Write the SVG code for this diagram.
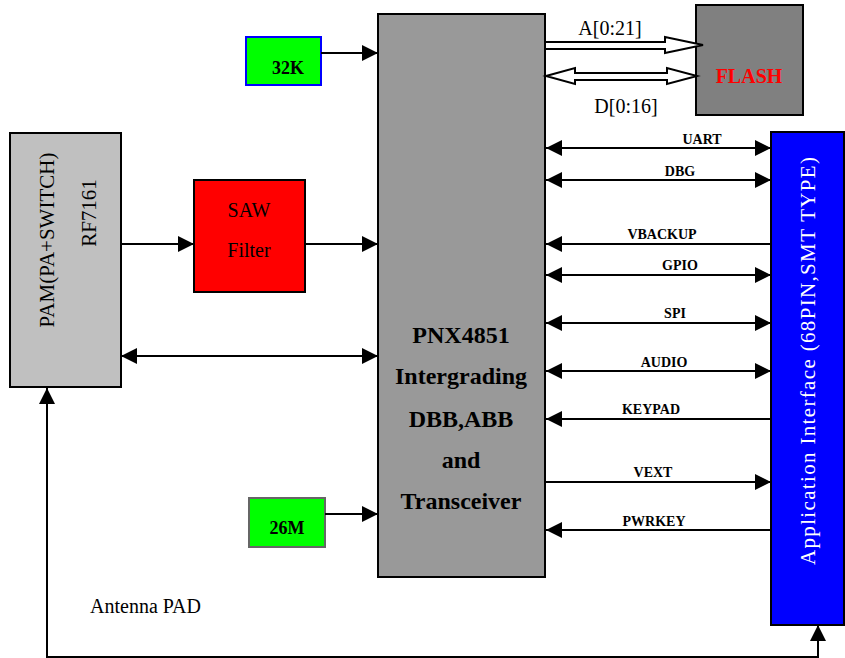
<svg xmlns="http://www.w3.org/2000/svg" width="845" height="658" viewBox="0 0 845 658">
<style>
text{font-family:"Liberation Serif","Times New Roman",serif;fill:#000}
.b{font-weight:bold}
.sig{font-size:14px;font-weight:bold;text-anchor:middle}
.ln{stroke:#000;stroke-width:2;fill:none}
.box{stroke:#000;stroke-width:2}
</style>
<defs>
<marker id="ah" markerUnits="userSpaceOnUse" markerWidth="16" markerHeight="16" refX="15" refY="7.5" orient="auto-start-reverse" viewBox="0 0 15 15">
<path d="M0,0 L15,7.5 L0,15 z" fill="#000"/>
</marker>
</defs>
<rect width="845" height="658" fill="#fff"/>

<g id="chip">
<rect x="378" y="14" width="167" height="563" fill="#999" class="box"/>
<text x="461" y="343" font-size="24" class="b" text-anchor="middle">PNX4851</text>
<text x="461" y="384" font-size="24" class="b" text-anchor="middle">Intergrading</text>
<text x="461" y="427" font-size="24" class="b" text-anchor="middle">DBB,ABB</text>
<text x="461" y="468" font-size="24" class="b" text-anchor="middle">and</text>
<text x="461" y="509" font-size="24" class="b" text-anchor="middle">Transceiver</text>
</g>

<g id="flash">
<rect x="696" y="5" width="107" height="110" fill="#808080" class="box"/>
<text x="749" y="83" font-size="20" class="b" text-anchor="middle" style="fill:#ff0000">FLASH</text>
</g>

<g id="app">
<rect x="771" y="132" width="73" height="493" fill="#0000ff" class="box"/>
<text transform="translate(815,565) rotate(-90)" x="0" y="0" font-size="21" textLength="408" lengthAdjust="spacing" style="fill:#fff">Application Interface (68PIN,SMT TYPE)</text>
</g>

<g id="pam">
<rect x="10" y="133" width="111" height="254" fill="#c0c0c0" class="box"/>
<text transform="translate(54,240) rotate(-90)" font-size="21" text-anchor="middle">PAM(PA+SWITCH)</text>
<text transform="translate(96,213) rotate(-90)" font-size="21" text-anchor="middle">RF7161</text>
</g>

<g id="saw">
<rect x="194" y="180" width="111" height="112" fill="#ff0000" class="box"/>
<text x="249" y="217" font-size="20" text-anchor="middle">SAW</text>
<text x="249" y="257" font-size="20" text-anchor="middle">Filter</text>
</g>

<g id="osc32k">
<rect x="246" y="37" width="75" height="48" fill="#00ff00" stroke="#0000ff" stroke-width="2"/>
<text x="288" y="74" font-size="18" class="b" text-anchor="middle">32K</text>
</g>

<g id="osc26m">
<rect x="249" y="498" width="76" height="49" fill="#00ff00" stroke="#666" stroke-width="2"/>
<text x="287" y="534" font-size="18" class="b" text-anchor="middle">26M</text>
</g>

<g id="antenna">
<text x="90" y="613" font-size="20">Antenna PAD</text>
</g>

<g id="connectors">
<polygon points="545,42 665,42 665,37 703,45 665,53 665,49 545,49" fill="#fff" stroke="#000" stroke-width="2"/>
<text x="610" y="35" font-size="20" text-anchor="middle">A[0:21]</text>
<polygon points="546,76 575,68 575,73 667,73 667,68 697,76 667,84 667,80 575,80 575,84" fill="#fff" stroke="#000" stroke-width="2"/>
<text x="626" y="113" font-size="20" text-anchor="middle">D[0:16]</text>

<line x1="321" y1="53" x2="378" y2="53" class="ln" marker-end="url(#ah)"/>
<line x1="325" y1="514" x2="378" y2="514" class="ln" marker-end="url(#ah)"/>
<line x1="121" y1="244" x2="194" y2="244" class="ln" marker-end="url(#ah)"/>
<line x1="305" y1="244" x2="378" y2="244" class="ln" marker-end="url(#ah)"/>
<line x1="121" y1="356" x2="378" y2="356" class="ln" marker-start="url(#ah)" marker-end="url(#ah)"/>

<line x1="546" y1="148" x2="771" y2="148" class="ln" marker-start="url(#ah)" marker-end="url(#ah)"/>
<text x="702" y="144" class="sig">UART</text>
<line x1="546" y1="180" x2="771" y2="180" class="ln" marker-start="url(#ah)" marker-end="url(#ah)"/>
<text x="680" y="176" class="sig">DBG</text>
<line x1="546" y1="244" x2="771" y2="244" class="ln" marker-start="url(#ah)"/>
<text x="662" y="239" class="sig">VBACKUP</text>
<line x1="546" y1="275" x2="771" y2="275" class="ln" marker-start="url(#ah)" marker-end="url(#ah)"/>
<text x="680" y="270" class="sig">GPIO</text>
<line x1="546" y1="323" x2="771" y2="323" class="ln" marker-start="url(#ah)" marker-end="url(#ah)"/>
<text x="675" y="318" class="sig">SPI</text>
<line x1="546" y1="371" x2="771" y2="371" class="ln" marker-start="url(#ah)" marker-end="url(#ah)"/>
<text x="664" y="367" class="sig">AUDIO</text>
<line x1="546" y1="419" x2="771" y2="419" class="ln" marker-start="url(#ah)"/>
<text x="651" y="414" class="sig">KEYPAD</text>
<line x1="546" y1="482" x2="771" y2="482" class="ln" marker-end="url(#ah)"/>
<text x="653" y="477" class="sig">VEXT</text>
<line x1="546" y1="530" x2="771" y2="530" class="ln" marker-start="url(#ah)"/>
<text x="654" y="526" class="sig">PWRKEY</text>

<polyline points="47,388 47,657 818,657 818,625" class="ln" marker-start="url(#ah)" marker-end="url(#ah)"/>
</g>
</svg>
